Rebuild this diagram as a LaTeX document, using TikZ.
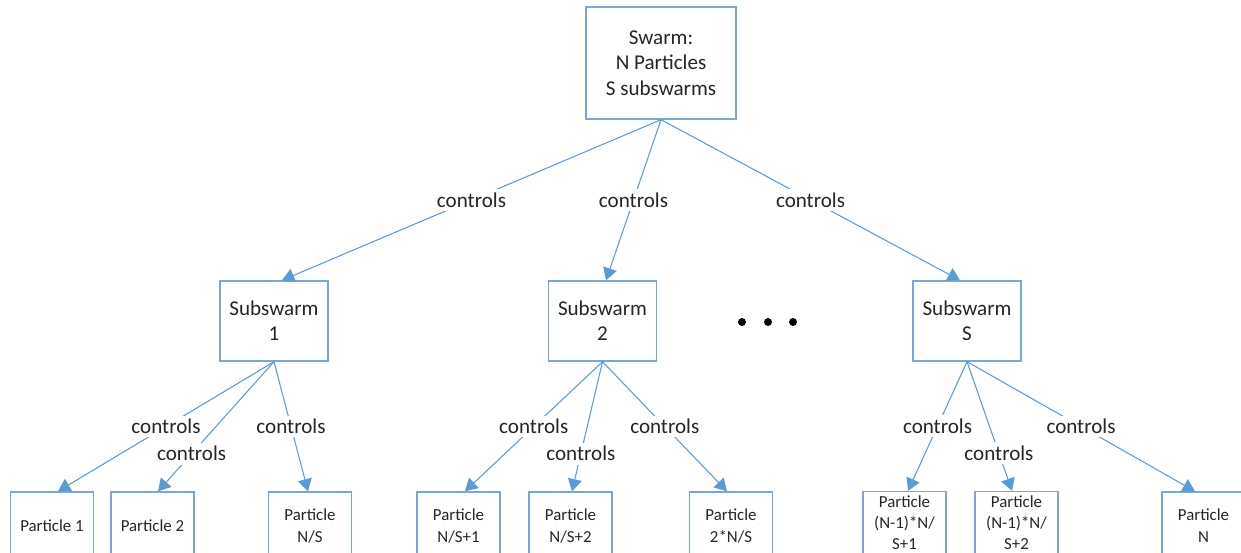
\documentclass[tikz,border=0pt]{standalone}
\usepackage{fontspec}
\setmainfont{Carlito}
\usetikzlibrary{arrows.meta,positioning}
\definecolor{swBlue}{HTML}{5B9BD5}
\definecolor{swEdge}{HTML}{7BA7D8}
\definecolor{swInk}{HTML}{262626}
\tikzset{
  box/.style={draw=swEdge, line width=0.8pt, fill=white, align=center, text=swInk, inner sep=2pt},
  swarmbox/.style={box, minimum width=3.0cm, minimum height=2.24cm, font=\fontsize{12}{14.5}\selectfont},
  subbox/.style={box, minimum width=2.16cm, minimum height=1.6cm, font=\fontsize{12}{14.3}\selectfont},
  partbox/.style={box, minimum width=1.66cm, minimum height=1.36cm, font=\fontsize{9.6}{12.6}\selectfont},
  tallpart/.style={partbox, minimum height=1.26cm, font=\fontsize{9.6}{12}\selectfont},
  conn/.style={-{Triangle[length=7pt,width=8pt]}, draw=swEdge, line width=0.6pt, swBlue},
  lbl/.style={fill=white, inner sep=2pt, text=swInk, font=\fontsize{12}{14}\selectfont},
}
\begin{document}
\begin{tikzpicture}[x=0.02cm, y=-0.02cm]
  \useasboundingbox (0,0) rectangle (1241,552);
  \clip (0,0) rectangle (1241,552);

  % top of the tree
  \node[swarmbox] (swarm) at (661,63) {Swarm:\\N Particles\\S subswarms};

  % subswarms
  \node[subbox] (sub1) at (274,321) {Subswarm\\1};
  \node[subbox] (sub2) at (602.5,321) {Subswarm\\2};
  \node[subbox] (subS) at (967,321) {Subswarm\\S};
  \foreach \x in {742,768,793}
    \fill[black] (\x,322) circle (4);

  % particles (boxes run past the lower edge)
  \node[partbox] (p1)   at (52,526)    {Particle 1};
  \node[partbox] (p2)   at (152.5,526) {Particle 2};
  \node[partbox] (pNS)  at (310,526)   {Particle\\N/S};
  \node[partbox] (pNS1) at (458.5,526) {Particle\\N/S+1};
  \node[partbox] (pNS2) at (570.5,526) {Particle\\N/S+2};
  \node[partbox] (p2NS) at (731,526)   {Particle\\2*N/S};
  \node[tallpart] (pK1) at (904.5,523) {Particle\\(N-1)*N/\\S+1};
  \node[tallpart] (pK2) at (1016.5,523){Particle\\(N-1)*N/\\S+2};
  \node[partbox] (pN)   at (1203.5,526){Particle\\N};

  % controls edges
  \foreach \src/\dst/\dx/\ps in {
      swarm/sub1/0.16cm/0.5, swarm/sub2/0.07cm/0.5, swarm/subS/-0.14cm/0.5,
      sub1/p1/0.12cm/0.5, sub1/p2/0.11cm/0.71, sub1/pNS/-0.04cm/0.5,
      sub2/pNS1/0.13cm/0.5, sub2/pNS2/0.03cm/0.71, sub2/p2NS/-0.08cm/0.5,
      subS/pK1/0.07cm/0.5, subS/pK2/-0.09cm/0.71, subS/pN/-0.17cm/0.5}
    \draw[conn] (\src.south) -- node[lbl, pos=\ps] {controls} ([xshift=\dx]\dst.north);
\end{tikzpicture}
\end{document}
